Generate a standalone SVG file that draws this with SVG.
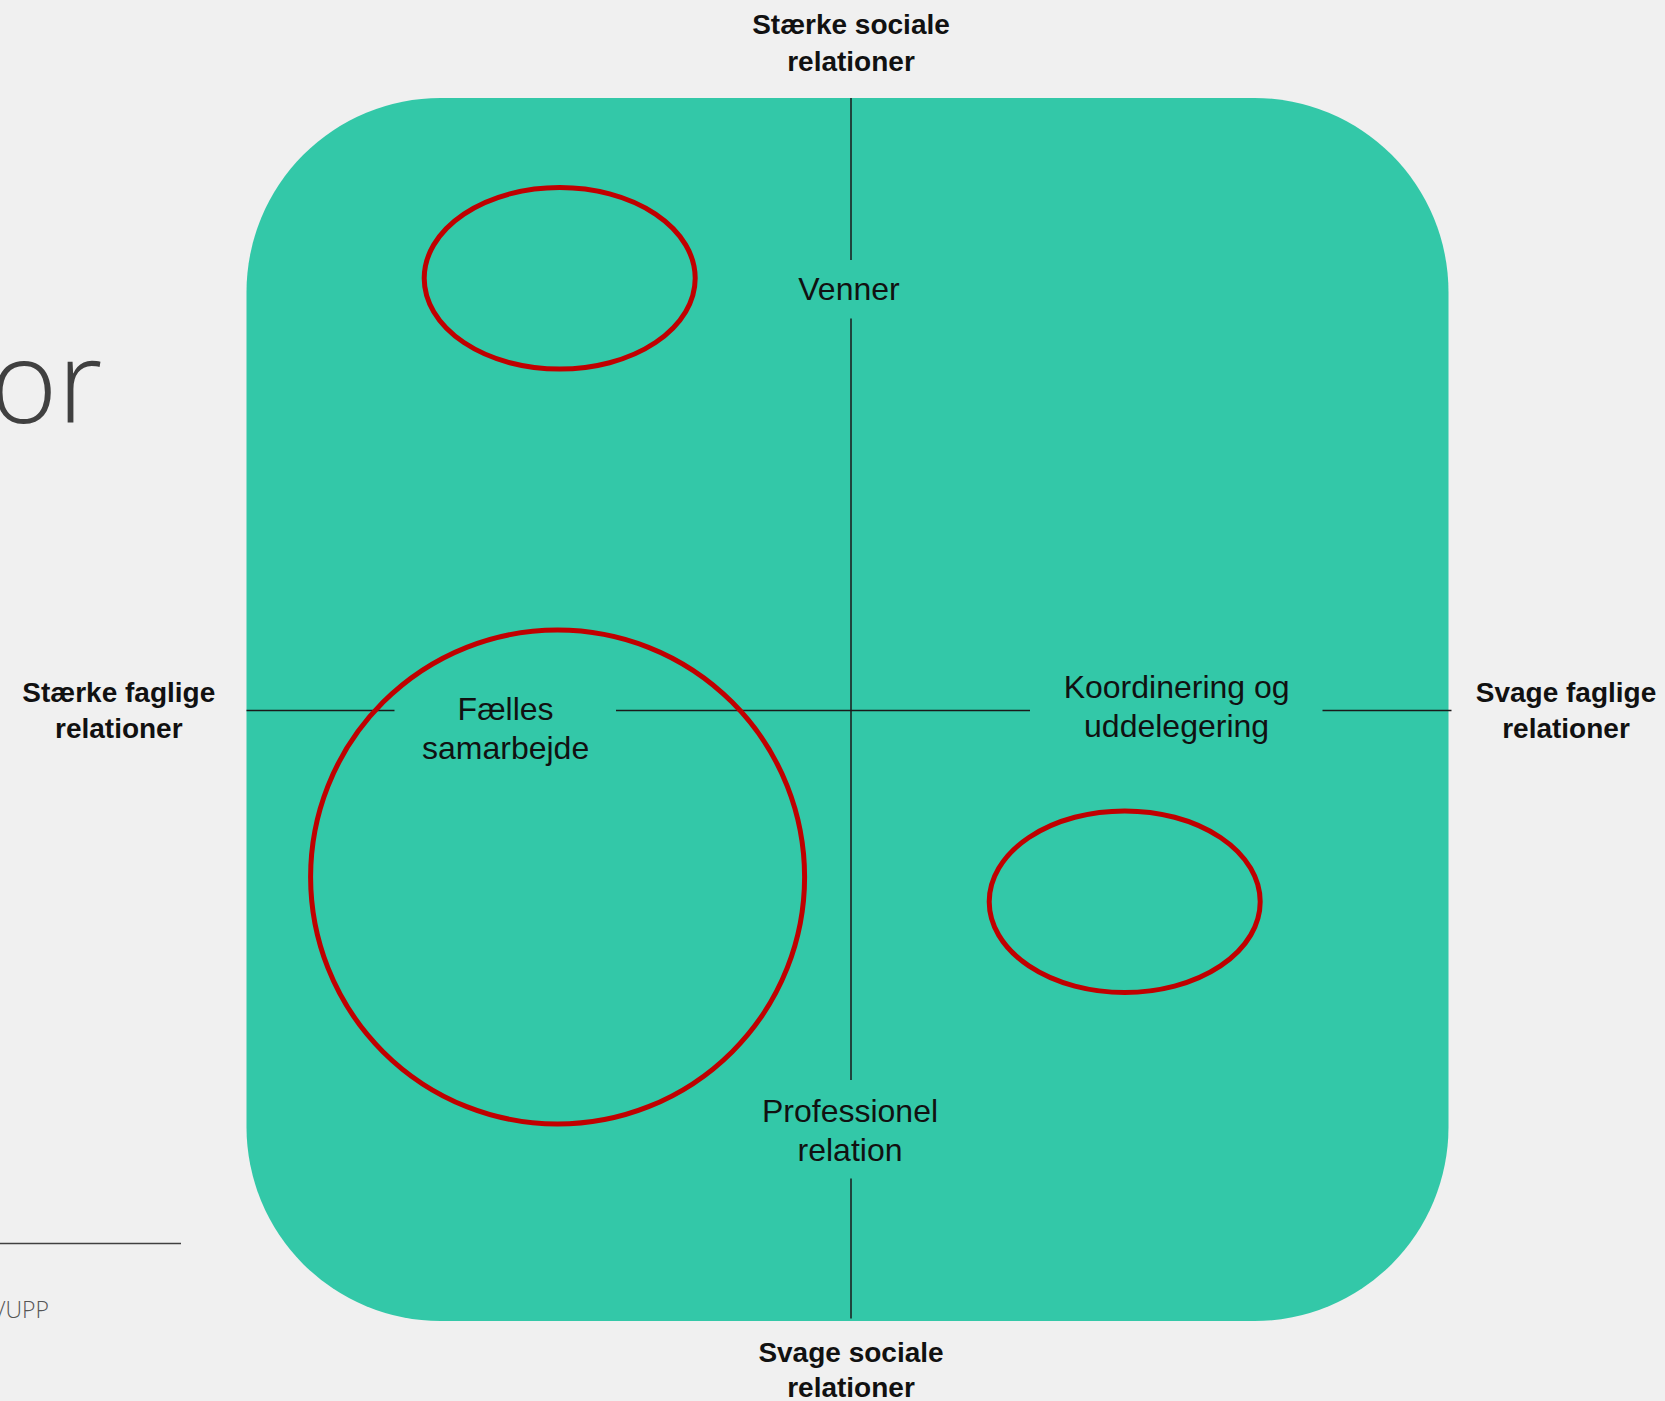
<svg xmlns="http://www.w3.org/2000/svg" width="1665" height="1401" viewBox="0 0 1665 1401">
  <style>
    .bold { font-family: "Liberation Sans", Arial, sans-serif; font-weight: bold; font-size: 28px; fill: #111111; text-anchor: middle; }
    .reg { font-family: "Liberation Sans", Arial, sans-serif; font-size: 32px; fill: #111111; text-anchor: middle; }
    .axis { stroke: #1a1a1a; stroke-width: 1.5; fill: none; }
    .ring { fill: none; stroke: #c00000; stroke-width: 5; }
    .light { font-family: "Open Sans", Lato, "Liberation Sans", sans-serif; font-weight: 300; }
  </style>
  <rect x="0" y="0" width="1665" height="1401" fill="#f0f0f0"/>

  <g id="background-text">
    <text x="-10" y="423" class="light" font-size="115" fill="#404040">or</text>
    <line x1="0" y1="1243.5" x2="181" y2="1243.5" stroke="#404040" stroke-width="1.3"/>
    <text x="49" y="1318" class="light" font-size="23" fill="#555555" text-anchor="end">/UPP</text>
  </g>

  <g id="panel">
    <rect x="246.5" y="98" width="1202" height="1223" rx="194" ry="194" fill="#33c8a8"/>
  </g>

  <g id="connectors">
    <line class="axis" x1="851" y1="98" x2="851" y2="260"/>
    <line class="axis" x1="851" y1="318.5" x2="851" y2="1080"/>
    <line class="axis" x1="851" y1="1178.5" x2="851" y2="1318.5"/>
    <line class="axis" x1="246.5" y1="710.5" x2="394.5" y2="710.5"/>
    <line class="axis" x1="616" y1="710.5" x2="1030" y2="710.5"/>
    <line class="axis" x1="1322.5" y1="710.5" x2="1451.5" y2="710.5"/>
  </g>

  <g id="ring-top">
    <ellipse class="ring" cx="559.7" cy="278.3" rx="135.5" ry="90.8"/>
  </g>
  <g id="ring-big">
    <circle class="ring" cx="557.6" cy="877" r="247"/>
  </g>
  <g id="ring-right">
    <ellipse class="ring" cx="1124.7" cy="901.7" rx="135.5" ry="90.8"/>
  </g>

  <g id="label-top">
    <text class="bold" x="851" y="34">Stærke sociale</text>
    <text class="bold" x="851" y="71">relationer</text>
  </g>
  <g id="label-left">
    <text class="bold" x="118.8" y="701.7">Stærke faglige</text>
    <text class="bold" x="118.8" y="737.7">relationer</text>
  </g>
  <g id="label-right">
    <text class="bold" x="1566" y="701.7">Svage faglige</text>
    <text class="bold" x="1566" y="738.3">relationer</text>
  </g>
  <g id="label-bottom">
    <text class="bold" x="851" y="1361.7">Svage sociale</text>
    <text class="bold" x="851" y="1396.7">relationer</text>
  </g>

  <g id="node-venner">
    <text class="reg" x="849" y="300">Venner</text>
  </g>
  <g id="node-faelles">
    <text class="reg" x="505.6" y="720">Fælles</text>
    <text class="reg" x="505.6" y="759">samarbejde</text>
  </g>
  <g id="node-koordinering">
    <text class="reg" x="1176.6" y="698.3">Koordinering og</text>
    <text class="reg" x="1176.6" y="737">uddelegering</text>
  </g>
  <g id="node-professionel">
    <text class="reg" x="850" y="1121.7">Professionel</text>
    <text class="reg" x="850" y="1160.5">relation</text>
  </g>
</svg>
